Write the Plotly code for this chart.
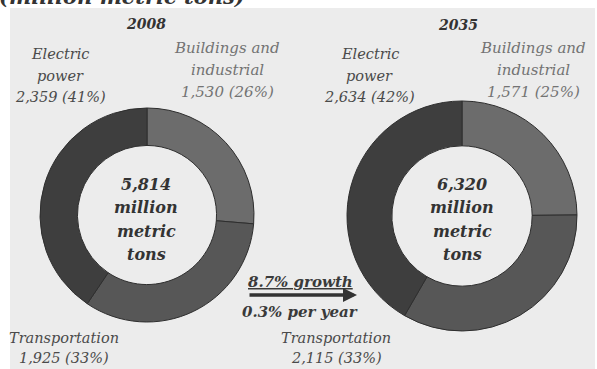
import plotly.graph_objects as go

W, H = 597, 369

# Energy-related CO2 emissions by sector (million metric tons)
sectors = ["Buildings and industrial", "Transportation", "Electric power"]
years = ["2008", "2035"]
emissions_2008 = [1530, 1925, 2359]
emissions_2035 = [1571, 2115, 2634]
shares_2008 = [26, 33, 41]
shares_2035 = [25, 33, 42]
growth_total = "8.7% growth"
growth_annual = "0.3% per year"

sector_colors = ["#6c6c6c", "#575757", "#3e3e3e"]
SERIF = "DejaVu Serif"


def px(x):
    return x / W


def py(y):
    return 1 - y / H


def dom(cx, cy, r):
    return dict(x=[px(cx - r), px(cx + r)], y=[py(cy + r), py(cy - r)])


fig = go.Figure()

donuts = [
    (emissions_2008, dom(147, 215, 107), 0.65),
    (emissions_2035, dom(462, 216, 115), 0.61),
]
for values, domain, hole in donuts:
    fig.add_trace(go.Pie(
        labels=sectors, values=values, sort=False, direction="clockwise",
        rotation=0, hole=hole, domain=domain, textinfo="none",
        hoverinfo="label+value+percent", showlegend=False,
        marker=dict(colors=sector_colors, line=dict(color="#2e2e2e", width=1)),
    ))

annotations = []


def note(text, x, y, size=13, color="#555555", bold=False, xanchor="center",
         yanchor="middle"):
    if bold:
        text = "<b>" + text + "</b>"
    annotations.append(dict(
        text="<i>" + text + "</i>", x=px(x), y=py(y), xref="paper", yref="paper",
        showarrow=False, xanchor=xanchor, yanchor=yanchor,
        font=dict(family=SERIF, size=size, color=color)))


def stacked(lines, x, y0, step, **kw):
    for i, line in enumerate(lines):
        note(line, x, y0 + i * step, **kw)


# Unit caption running off the top edge
note("(million metric tons)", -3, 11, size=21, color="#333333", bold=True,
     xanchor="left", yanchor="bottom")

# Year headers
note(years[0], 146, 24, size=14, color="#333333", bold=True)
note(years[1], 458, 25, size=14, color="#333333", bold=True)

LBL = 14.5
# Sector labels, 2008
v, s = emissions_2008, shares_2008
stacked(["Electric", "power", f"{v[2]:,} ({s[2]}%)"], 60, 54, 21.5, size=LBL, color="#4a4a4a")
stacked(["Buildings and", "industrial", f"{v[0]:,} ({s[0]}%)"], 227, 48, 22, size=15, color="#737373")
stacked(["Transportation", f"{v[1]:,} ({s[1]}%)"], 64, 338, 20, size=LBL, color="#4a4a4a")

# Sector labels, 2035
v, s = emissions_2035, shares_2035
stacked(["Electric", "power", f"{v[2]:,} ({s[2]}%)"], 370, 54, 21.5, size=LBL, color="#4a4a4a")
stacked(["Buildings and", "industrial", f"{v[0]:,} ({s[0]}%)"], 533, 48, 22, size=15, color="#737373")
stacked(["Transportation", f"{v[1]:,} ({s[1]}%)"], 336, 338, 20, size=LBL, color="#4a4a4a")

# Totals in the donut holes
for values, cx in [(emissions_2008, 146), (emissions_2035, 462)]:
    stacked([f"{sum(values):,}", "million", "metric", "tons"], cx, 185, 23,
            size=16, color="#333333", bold=True)

# Growth arrow between the two years
note("<u>" + growth_total + "</u>", 300, 282, size=15, color="#3a3a3a", bold=True)
note(growth_annual, 300, 312, size=15, color="#3a3a3a", bold=True)
annotations.append(dict(
    x=px(357), y=py(295), xref="paper", yref="paper",
    ax=-(357 - 248), ay=0, axref="pixel", ayref="pixel",
    showarrow=True, arrowhead=2, arrowsize=0.8, arrowwidth=3.5,
    arrowcolor="#333333", text=""))

fig.update_layout(
    width=W, height=H, margin=dict(l=0, r=0, t=0, b=0),
    paper_bgcolor="white", plot_bgcolor="white",
    annotations=annotations,
    shapes=[dict(type="rect", xref="paper", yref="paper",
                 x0=px(10), x1=px(595), y0=0, y1=py(8),
                 fillcolor="#ececec", line=dict(width=0), layer="below")],
)

fig.write_html("out.html")
